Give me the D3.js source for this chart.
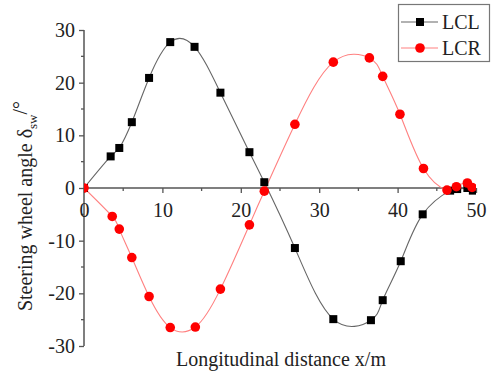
<!DOCTYPE html>
<html>
<head>
<meta charset="utf-8">
<script src="https://cdn.jsdelivr.net/npm/d3@7/dist/d3.min.js"></script>
<style>
  body { margin: 0; background: #fff; }
  svg text { font-family: "Liberation Serif", "Times New Roman", serif; fill: #222; }
</style>
</head>
<body>
<div id="chart"></div>
<script>
var width = 493;
var height = 382;

// data
var lclX = [0, 3.4, 4.5, 6.1, 8.3, 11.0, 14.1, 17.4, 21.1, 23.0, 26.9, 31.8, 36.6, 38.1, 40.4, 43.2, 46.7, 47.6, 48.9, 49.6];
var lclY = [0, 6.0, 7.6, 12.5, 20.9, 27.7, 26.8, 18.1, 6.8, 1.1, -11.4, -24.9, -25.1, -21.3, -13.9, -5.0, -0.5, -0.2, 0.0, -0.5];
var lcrX = [0, 3.6, 4.5, 6.1, 8.3, 11.0, 14.2, 17.4, 21.1, 23.0, 26.9, 31.8, 36.4, 38.1, 40.3, 43.3, 46.3, 47.5, 48.9, 49.5];
var lcrY = [0, -5.4, -7.8, -13.2, -20.6, -26.5, -26.4, -19.2, -7.0, -0.6, 12.1, 23.9, 24.7, 21.2, 14.0, 3.7, -0.4, 0.25, 0.95, 0.1];
var xTicks = [0, 10, 20, 30, 40, 50];
var yTicks = [-30, -20, -10, 0, 10, 20, 30];
var seriesNames = ["LCL", "LCR"];

var margin = { top: 30, right: 17, bottom: 36, left: 84 };
var serif = "Liberation Serif, Times New Roman, serif";

var svg = d3.select("#chart")
  .append("svg")
  .attr("width", width)
  .attr("height", height);

var x = d3.scaleLinear().domain([0, 50]).range([margin.left, width - margin.right]);
var y = d3.scaleLinear().domain([-30, 30]).range([height - margin.bottom, margin.top]);

var axisColor = "#555";

// clip to plot area
svg.append("clipPath").attr("id", "plot")
  .append("rect")
  .attr("x", x(0)).attr("y", y(30))
  .attr("width", x(50) - x(0)).attr("height", y(-30) - y(30));

// y axis
var yAxis = svg.append("g")
  .attr("transform", "translate(" + x(0) + ",0)")
  .call(d3.axisLeft(y).tickValues(yTicks).tickSize(5).tickPadding(4).tickFormat(d3.format("d")))
  .attr("font-family", serif).attr("font-size", 20);
yAxis.select(".domain").attr("stroke", axisColor).attr("stroke-width", 1.5).attr("d", "M0," + y(30) + "V" + y(-30));
yAxis.selectAll(".tick line").attr("stroke", axisColor).attr("stroke-width", 1.3);
yAxis.selectAll(".tick text").attr("fill", "#222")
  .text(function (d) { return d < 0 ? "-" + Math.abs(d) : d; });
yAxis.selectAll(".minor").data(d3.range(-25, 30, 10)).enter()
  .append("line")
  .attr("x1", 0).attr("x2", -3)
  .attr("y1", function (d) { return y(d); }).attr("y2", function (d) { return y(d); })
  .attr("stroke", axisColor).attr("stroke-width", 1.3);

// x axis sits at y = 0
var xAxis = svg.append("g")
  .attr("transform", "translate(0," + y(0) + ")")
  .call(d3.axisBottom(x).tickValues(xTicks).tickSize(5).tickPadding(10).tickFormat(d3.format("d")))
  .attr("font-family", serif).attr("font-size", 20);
xAxis.select(".domain").attr("stroke", axisColor).attr("stroke-width", 1.5).attr("d", "M" + x(0) + ",0H" + x(50));
xAxis.selectAll(".tick line").attr("stroke", axisColor).attr("stroke-width", 1.3);
xAxis.selectAll(".tick text").attr("fill", "#222");
xAxis.selectAll(".minor").data(d3.range(5, 50, 10)).enter()
  .append("line")
  .attr("y1", 0).attr("y2", 3)
  .attr("x1", function (d) { return x(d); }).attr("x2", function (d) { return x(d); })
  .attr("stroke", axisColor).attr("stroke-width", 1.3);

// axis titles
svg.append("text")
  .attr("x", 281).attr("y", 366)
  .attr("text-anchor", "middle")
  .attr("font-size", 20)
  .text("Longitudinal distance x/m");

var ytitle = svg.append("text")
  .attr("transform", "translate(32,206)rotate(-90)")
  .attr("text-anchor", "middle")
  .attr("font-size", 20);
ytitle.append("tspan").text("Steering wheel angle \u03b4");
ytitle.append("tspan").attr("font-size", 13).attr("dy", 5).text("sw");
ytitle.append("tspan").attr("dy", -10).text("/\u00b0");

// curves
var line = d3.line()
  .x(function (d) { return x(d[0]); })
  .y(function (d) { return y(d[1]); })
  .curve(d3.curveNatural);

var lcl = lclX.map(function (v, i) { return [v, lclY[i]]; });
var lcr = lcrX.map(function (v, i) { return [v, lcrY[i]]; });

var plot = svg.append("g").attr("clip-path", "url(#plot)");

plot.append("path").datum(lcl)
  .attr("d", line).attr("fill", "none").attr("stroke", "#666").attr("stroke-width", 1.1);
plot.append("path").datum(lcr)
  .attr("d", line).attr("fill", "none").attr("stroke", "#ff8080").attr("stroke-width", 1.1);

var sq = 8;
plot.selectAll(".sq").data(lcl).enter()
  .append("rect")
  .attr("x", function (d) { return x(d[0]) - sq / 2; })
  .attr("y", function (d) { return y(d[1]) - sq / 2; })
  .attr("width", sq).attr("height", sq)
  .attr("fill", "#000");

plot.selectAll(".dot").data(lcr).enter()
  .append("circle")
  .attr("cx", function (d) { return x(d[0]); })
  .attr("cy", function (d) { return y(d[1]); })
  .attr("r", 4.8)
  .attr("fill", "#ff0000");

// legend
var legend = svg.append("g");
legend.append("rect")
  .attr("x", 398.5).attr("y", 4.5).attr("width", 91).attr("height", 57)
  .attr("fill", "#fff").attr("stroke", "#777").attr("stroke-width", 1.2);

var legendY = [22, 48];
var legendColor = ["#666", "#ff8080"];
seriesNames.forEach(function (name, i) {
  legend.append("line")
    .attr("x1", 401).attr("x2", 438)
    .attr("y1", legendY[i]).attr("y2", legendY[i])
    .attr("stroke", legendColor[i]).attr("stroke-width", 1.1);
  if (i === 0) {
    legend.append("rect")
      .attr("x", 420 - sq / 2).attr("y", legendY[i] - sq / 2)
      .attr("width", sq).attr("height", sq).attr("fill", "#000");
  } else {
    legend.append("circle")
      .attr("cx", 420).attr("cy", legendY[i]).attr("r", 4.8).attr("fill", "#ff0000");
  }
  legend.append("text")
    .attr("x", 442).attr("y", legendY[i] + 7)
    .attr("font-size", 20)
    .text(name);
});
</script>
</body>
</html>
